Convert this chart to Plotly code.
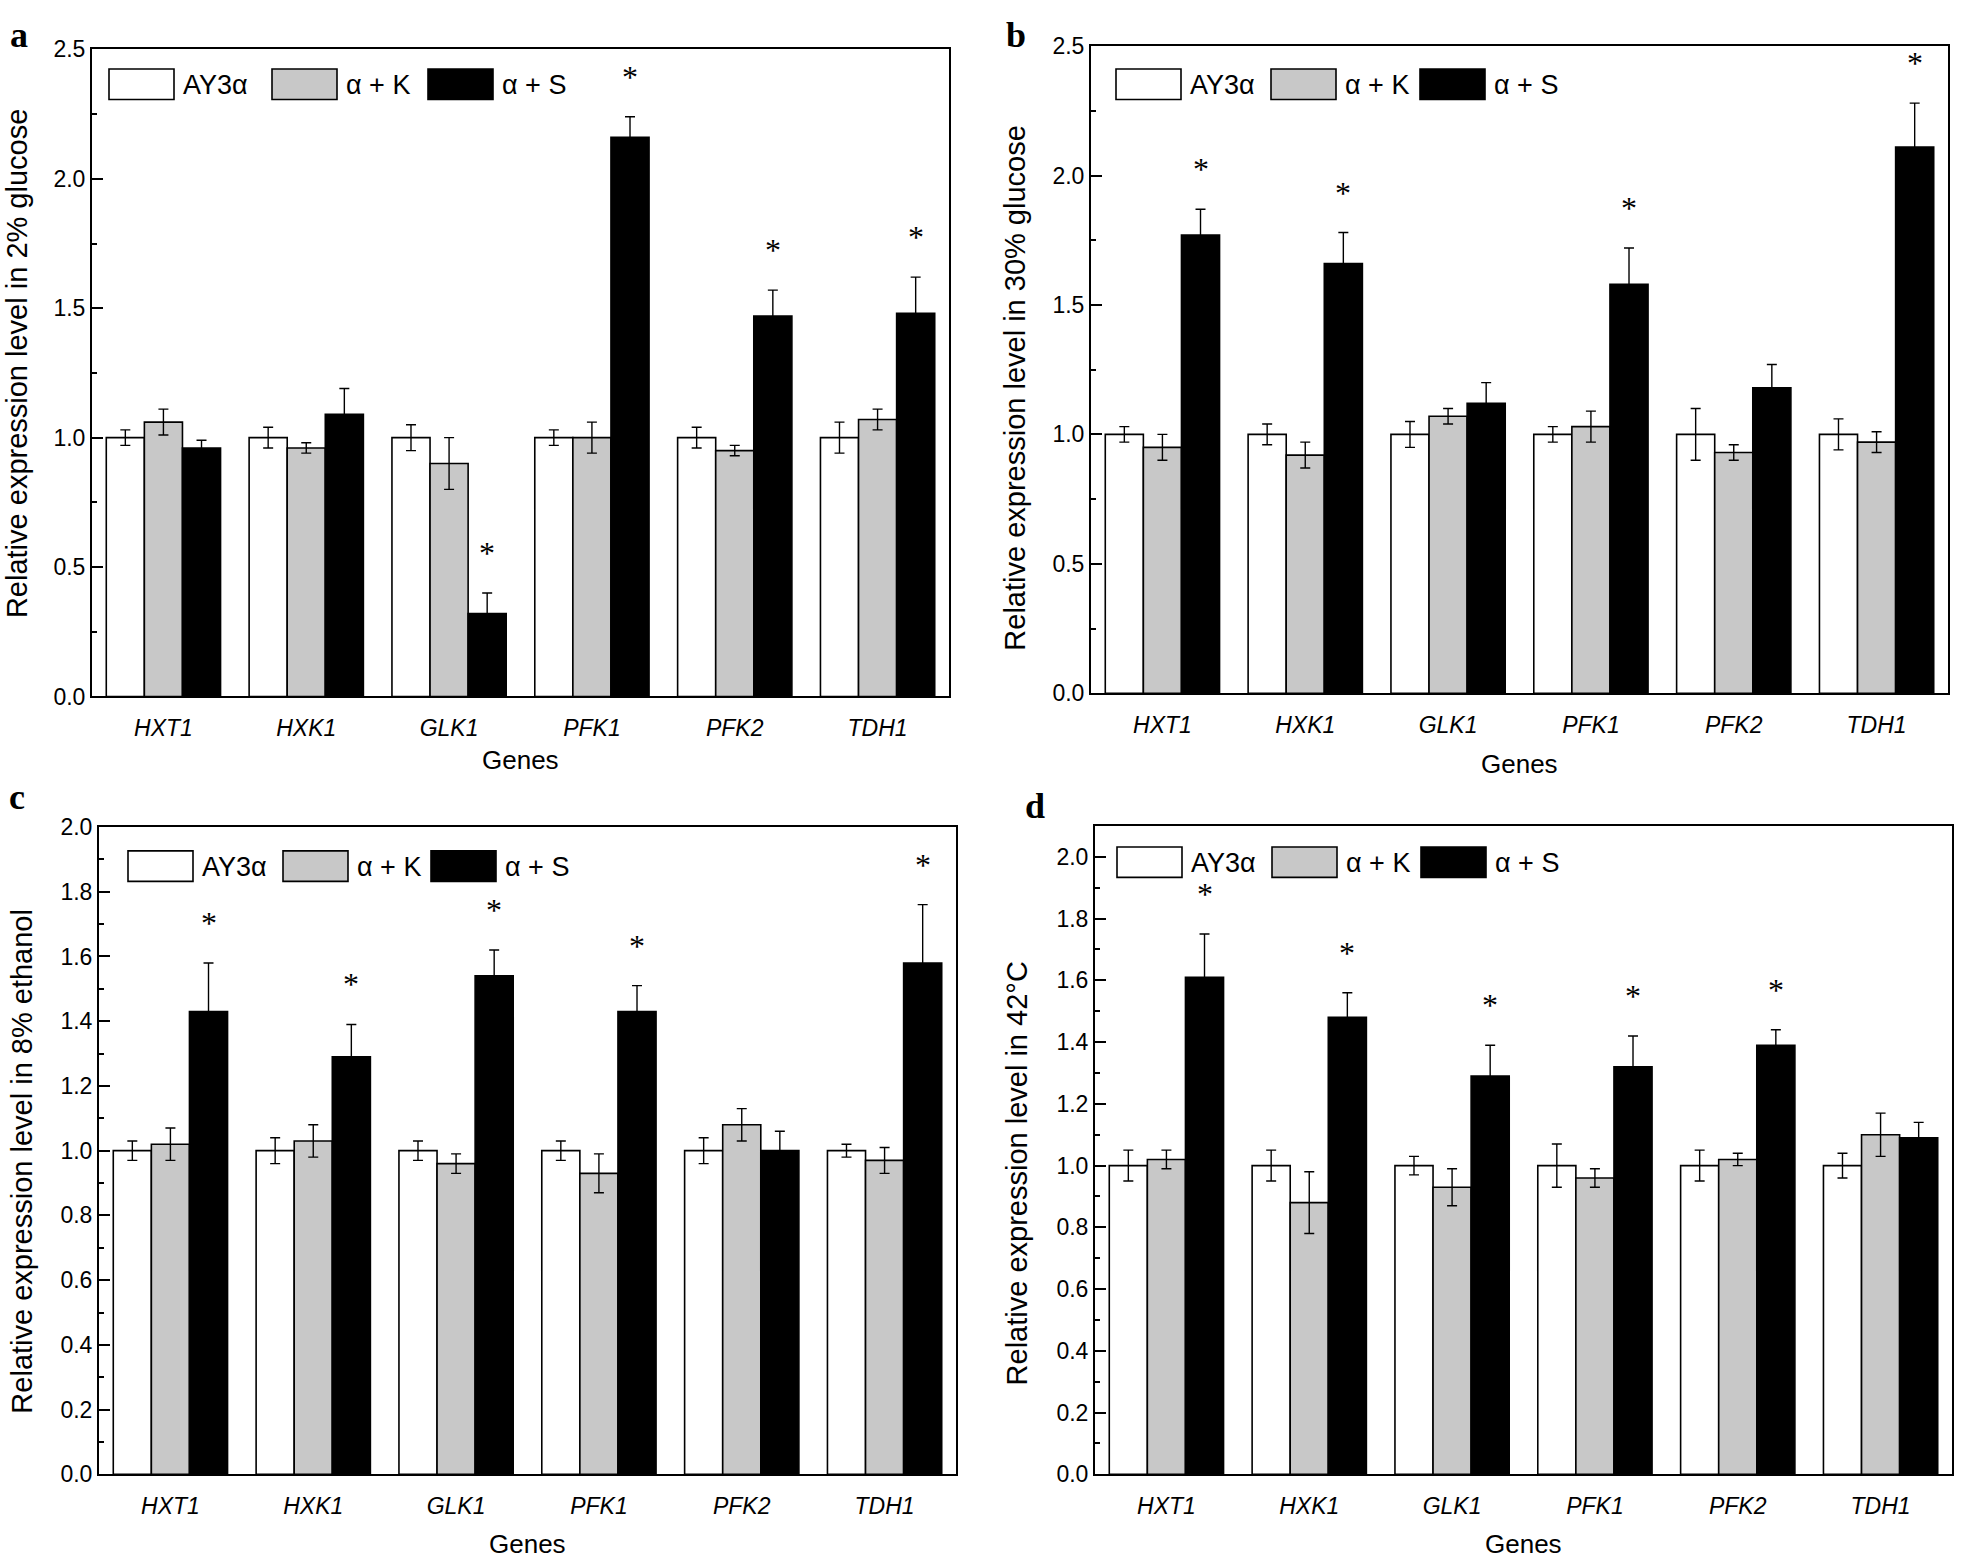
import plotly.graph_objects as go

W, H = 1961, 1568

genes = ["HXT1", "HXK1", "GLK1", "PFK1", "PFK2", "TDH1"]
strains = ["AY3α", "α + K", "α + S"]
fills = ["white", "#c8c8c8", "black"]

# a: 2% glucose
glu2_ay3 = [1.00, 1.00, 1.00, 1.00, 1.00, 1.00]
glu2_ay3_err = [0.03, 0.04, 0.05, 0.03, 0.04, 0.06]
glu2_k = [1.06, 0.96, 0.90, 1.00, 0.95, 1.07]
glu2_k_err = [0.05, 0.02, 0.10, 0.06, 0.02, 0.04]
glu2_s = [0.96, 1.09, 0.32, 2.16, 1.47, 1.48]
glu2_s_err = [0.03, 0.10, 0.08, 0.08, 0.10, 0.14]
glu2_sig = [0, 0, 1, 1, 1, 1]

# b: 30% glucose
glu30_ay3 = [1.00, 1.00, 1.00, 1.00, 1.00, 1.00]
glu30_ay3_err = [0.03, 0.04, 0.05, 0.03, 0.10, 0.06]
glu30_k = [0.95, 0.92, 1.07, 1.03, 0.93, 0.97]
glu30_k_err = [0.05, 0.05, 0.03, 0.06, 0.03, 0.04]
glu30_s = [1.77, 1.66, 1.12, 1.58, 1.18, 2.11]
glu30_s_err = [0.10, 0.12, 0.08, 0.14, 0.09, 0.17]
glu30_sig = [1, 1, 0, 1, 0, 1]

# c: 8% ethanol
eth_ay3 = [1.00, 1.00, 1.00, 1.00, 1.00, 1.00]
eth_ay3_err = [0.03, 0.04, 0.03, 0.03, 0.04, 0.02]
eth_k = [1.02, 1.03, 0.96, 0.93, 1.08, 0.97]
eth_k_err = [0.05, 0.05, 0.03, 0.06, 0.05, 0.04]
eth_s = [1.43, 1.29, 1.54, 1.43, 1.00, 1.58]
eth_s_err = [0.15, 0.10, 0.08, 0.08, 0.06, 0.18]
eth_sig = [1, 1, 1, 1, 0, 1]

# d: 42 C
heat_ay3 = [1.00, 1.00, 1.00, 1.00, 1.00, 1.00]
heat_ay3_err = [0.05, 0.05, 0.03, 0.07, 0.05, 0.04]
heat_k = [1.02, 0.88, 0.93, 0.96, 1.02, 1.10]
heat_k_err = [0.03, 0.10, 0.06, 0.03, 0.02, 0.07]
heat_s = [1.61, 1.48, 1.29, 1.32, 1.39, 1.09]
heat_s_err = [0.14, 0.08, 0.10, 0.10, 0.05, 0.05]
heat_sig = [1, 1, 1, 1, 1, 0]

ytitles = ["Relative expression level in 2% glucose",
           "Relative expression level in 30% glucose",
           "Relative expression level in 8% ethanol",
           "Relative expression level in 42°C"]
letters = ["a", "b", "c", "d"]

series = [
    ([glu2_ay3, glu2_k, glu2_s], [glu2_ay3_err, glu2_k_err, glu2_s_err], glu2_sig),
    ([glu30_ay3, glu30_k, glu30_s], [glu30_ay3_err, glu30_k_err, glu30_s_err], glu30_sig),
    ([eth_ay3, eth_k, eth_s], [eth_ay3_err, eth_k_err, eth_s_err], eth_sig),
    ([heat_ay3, heat_k, heat_s], [heat_ay3_err, heat_k_err, heat_s_err], heat_sig),
]

# panel boxes in pixels: left, right, top, bottom, ymax, dtick
boxes = [
    (92, 949, 37, 695, 2.5, 0.5),
    (1091, 1948, 33.7, 691.7, 2.5, 0.5),
    (99, 956, 827.7, 1486, 2.0, 0.2),
    (1095, 1952, 826.7, 1486, 2.1, 0.2),
]
# legend: box left, box top, item offsets
legends = [(109, 57, [0, 163, 319]), (1116, 57, [0, 155, 304]),
           (128, 852, [0, 155, 303]), (1117, 848, [0, 155, 304])]
# y title centre, "Genes" y, letter position
ytitle_pos = [(17, 357), (1015, 381), (22, 1168), (1017, 1180)]
genes_y = [760, 764, 1557, 1557]
letter_pos = [(19, 0), (1016, 0), (17, 797), (1035, 806)]

FONT = "Liberation Sans"


def px(x):
    return x / W


def py(y):
    return 1 - y / H


fig = go.Figure()
annotations = []
shapes = []
bw = 0.8 / 3

for p, (vals, errs, sig) in enumerate(series):
    sfx = "" if p == 0 else str(p + 1)
    xa, ya = "x" + sfx, "y" + sfx
    for j in range(3):
        fig.add_trace(go.Bar(
            x=list(range(len(genes))), y=vals[j], name=strains[j],
            xaxis=xa, yaxis=ya, showlegend=False,
            marker=dict(color=fills[j], line=dict(color="black", width=1.6)),
            error_y=dict(type="data", array=errs[j], color="black",
                         thickness=1.4, width=5),
        ))
    for i, flag in enumerate(sig):
        if flag:
            annotations.append(dict(
                x=i + bw, y=vals[2][i] + errs[2][i], xref=xa, yref=ya,
                text="*", showarrow=False, yanchor="bottom", yshift=20,
                font=dict(family="Liberation Serif", size=32, color="black")))

    x0, x1, y0, y1, ymax, dt = boxes[p]
    fig.update_layout({
        "xaxis" + sfx: dict(
            domain=[px(x0), px(x1)], anchor=ya, range=[-0.5, 5.5],
            tickvals=list(range(len(genes))), ticktext=genes, ticks="",
            ticklabelstandoff=10,
            showline=True, mirror=True, linecolor="black", linewidth=2,
            showgrid=False, zeroline=False,
            tickfont=dict(family=FONT, size=23, color="black", style="italic")),
        "yaxis" + sfx: dict(
            domain=[py(y1), py(y0)], anchor=xa, range=[0, ymax],
            dtick=dt, tickformat=".1f", ticks="inside", ticklen=11,
            tickwidth=1.5, tickcolor="black",
            minor=dict(dtick=dt / 2, ticks="inside", ticklen=5,
                       tickwidth=1.5, tickcolor="black"),
            showline=True, mirror=True, linecolor="black", linewidth=2,
            showgrid=False, zeroline=False,
            tickfont=dict(family=FONT, size=23, color="black")),
    })

    # legend boxes
    lx, ly, offs = legends[p]
    for j in range(3):
        bx = lx + offs[j]
        shapes.append(dict(type="rect", xref="paper", yref="paper",
                           x0=px(bx), x1=px(bx + 65), y0=py(ly + 31), y1=py(ly),
                           fillcolor=fills[j], line=dict(color="black", width=1.6)))
        annotations.append(dict(x=px(bx + 72), y=py(ly + 16), xref="paper", yref="paper",
                                text=strains[j], showarrow=False, xanchor="left",
                                yanchor="middle",
                                font=dict(family=FONT, size=27, color="black")))

    tx, ty = ytitle_pos[p]
    annotations.append(dict(x=px(tx), y=py(ty), xref="paper", yref="paper",
                            text=ytitles[p], textangle=-90, showarrow=False,
                            xanchor="center", yanchor="middle",
                            font=dict(family=FONT, size=29, color="black")))
    annotations.append(dict(x=px((x0 + x1) / 2), y=py(genes_y[p]), xref="paper", yref="paper",
                            text="Genes", showarrow=False, xanchor="center", yanchor="middle",
                            font=dict(family=FONT, size=26, color="black")))
    lxp, lyp = letter_pos[p]
    annotations.append(dict(x=px(lxp), y=py(lyp), xref="paper", yref="paper",
                            text="<b>" + letters[p] + "</b>", showarrow=False,
                            xanchor="center", yanchor="top" if lyp == 0 else "middle",
                            font=dict(family="Liberation Serif", size=36, color="black")))

fig.update_layout(
    width=W, height=H, margin=dict(l=0, r=0, t=0, b=0),
    paper_bgcolor="white", plot_bgcolor="white",
    barmode="group", bargap=0.2, bargroupgap=0,
    annotations=annotations, shapes=shapes,
)

# the page keeps the browser's default 8px body margin otherwise
fig.write_html("out.html", config={"displayModeBar": False},
               post_script="document.body.style.margin = '0';")
